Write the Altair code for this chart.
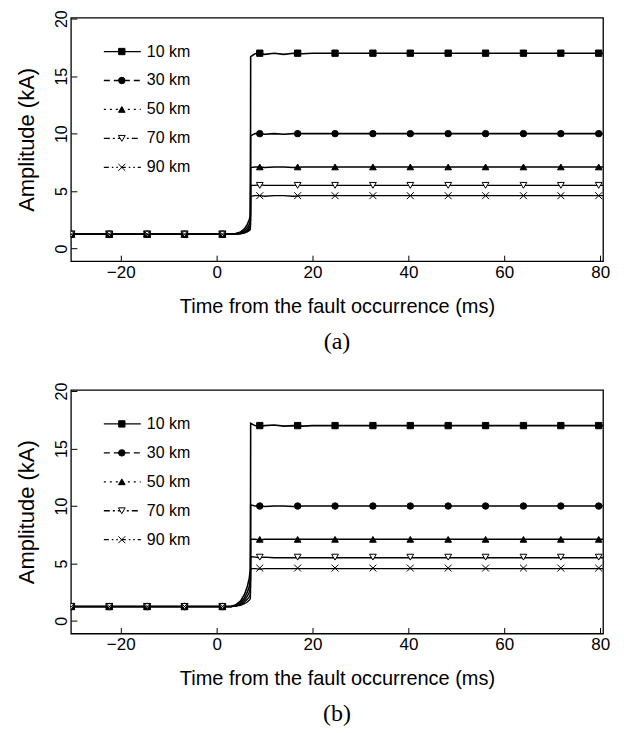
import altair as alt
import pandas as pd

# ---------------- data ----------------
SERIES = ["10 km", "30 km", "50 km", "70 km", "90 km"]

# time samples of the traces (ms)
T = [-30.5, 3.0, 4.0, 5.0, 5.8, 6.4, 6.8, 7.05, 7.1, 8, 9, 10, 12, 14, 16, 18, 20, 81]

# panel (a) amplitudes (kA)
A_10 = [1.25, 1.25, 1.30, 1.45, 1.70, 2.10, 2.50, 2.90, 16.7, 16.95, 17.0, 16.9, 17.0, 16.9, 17.0, 16.95, 17.0, 17.0]
A_30 = [1.25, 1.25, 1.28, 1.38, 1.55, 1.80, 2.10, 2.40, 9.8, 10.0, 10.0, 9.95, 10.0, 9.95, 10.0, 10.0, 10.0, 10.0]
A_50 = [1.25, 1.25, 1.27, 1.33, 1.45, 1.62, 1.85, 2.05, 7.05, 7.1, 7.1, 7.05, 7.1, 7.1, 7.05, 7.1, 7.1, 7.1]
A_70 = [1.25, 1.25, 1.26, 1.30, 1.40, 1.52, 1.68, 1.85, 5.5, 5.5, 5.55, 5.5, 5.5, 5.5, 5.5, 5.5, 5.5, 5.5]
A_90 = [1.25, 1.25, 1.25, 1.28, 1.35, 1.45, 1.55, 1.65, 4.55, 4.6, 4.6, 4.55, 4.6, 4.6, 4.55, 4.6, 4.6, 4.6]

# panel (b) amplitudes (kA)
B_10 = [1.25, 1.25, 1.40, 1.75, 2.30, 3.00, 3.70, 4.50, 17.2, 17.0, 16.9, 17.0, 17.05, 16.95, 17.0, 16.95, 17.0, 17.0]
B_30 = [1.25, 1.25, 1.35, 1.60, 2.00, 2.50, 3.00, 3.60, 10.1, 10.0, 10.0, 9.95, 10.0, 10.0, 9.95, 10.0, 10.0, 10.0]
B_50 = [1.25, 1.25, 1.32, 1.50, 1.80, 2.15, 2.50, 2.90, 7.1, 7.1, 7.05, 7.1, 7.1, 7.1, 7.1, 7.1, 7.1, 7.1]
B_70 = [1.25, 1.25, 1.30, 1.42, 1.62, 1.88, 2.10, 2.35, 5.6, 5.55, 5.5, 5.55, 5.5, 5.5, 5.5, 5.5, 5.5, 5.5]
B_90 = [1.25, 1.25, 1.28, 1.36, 1.50, 1.65, 1.80, 1.95, 4.55, 4.55, 4.5, 4.55, 4.55, 4.55, 4.55, 4.55, 4.55, 4.55]

# marker positions (ms) and levels (kA)
MARK_T = [-30.3, -22.4, -14.5, -6.7, 1.2, 9.0, 16.9, 24.7, 32.6, 40.4, 48.3, 56.1, 64.0, 71.8, 79.7]
PRE_LEVEL = 1.25
FINAL_A = [17.0, 10.0, 7.1, 5.5, 4.6]
FINAL_B = [17.0, 10.0, 7.1, 5.55, 4.6]

X_TICKS = [-20, 0, 20, 40, 60, 80]
Y_TICKS = [0, 5, 10, 15, 20]
CAPTIONS = ["(a)", "(b)"]

# ---------------- styling ----------------
X_MIN, X_MAX = -30.4, 80.6
Y_MIN, Y_MAX = -1.1, 20.1
W, H = 533, 244
SANS = "Liberation Sans"
SERIF = "Liberation Serif"

SHAPES = ["square", "circle", "triangle-up", "triangle-down", "M-1,-1L1,1M-1,1L1,-1"]
FILLS = ["black", "black", "black", "white", "black"]
SIZES = [40, 48, 50, 50, 40]
DASHES = [[1, 0], [6, 4], [2, 4], [6, 3, 2, 3], [5, 3, 1.5, 3, 1.5, 3]]
WIDTHS = [1.6, 1.3, 1.2, 1.2, 1.0]

shape_scale = alt.Scale(domain=SERIES, range=SHAPES)
fill_scale = alt.Scale(domain=SERIES, range=FILLS)
size_scale = alt.Scale(domain=SERIES, range=SIZES)
dash_scale = alt.Scale(domain=SERIES, range=DASHES)
width_scale = alt.Scale(domain=SERIES, range=WIDTHS)

# legend layout (pixels inside plot area -> data units)
PX_X = W / (X_MAX - X_MIN)
PX_Y = H / (Y_MAX - Y_MIN)
LEG_TOP, LEG_STEP = 34, 29
LEG_X0, LEG_X1, LEG_XM, LEG_XT = 33, 70, 51, 76


def line_frame(values):
    rows = []
    for s, vals in zip(SERIES, values):
        for i, (t, v) in enumerate(zip(T, vals)):
            rows.append({"series": s, "i": i, "t": t, "amp": v})
    return pd.DataFrame(rows)


def mark_frame(finals):
    rows = []
    for s, fin in zip(SERIES, finals):
        for t in MARK_T:
            rows.append({"series": s, "t": t, "amp": PRE_LEVEL if t < 7 else fin})
    return pd.DataFrame(rows)


def legend_frame():
    rows = []
    for k, s in enumerate(SERIES):
        y = Y_MAX - (LEG_TOP + k * LEG_STEP) / PX_Y
        rows.append({
            "series": s,
            "ly": y,
            "lx0": X_MIN + LEG_X0 / PX_X,
            "lx1": X_MIN + LEG_X1 / PX_X,
            "lxm": X_MIN + LEG_XM / PX_X,
            "lxt": X_MIN + LEG_XT / PX_X,
        })
    return pd.DataFrame(rows)


xscale = alt.Scale(domain=[X_MIN, X_MAX], nice=False, zero=False)
yscale = alt.Scale(domain=[Y_MIN, Y_MAX], nice=False, zero=False)

x_axis = alt.Axis(values=X_TICKS, title="Time from the fault occurrence (ms)", offset=-6,
                  tickSize=6, domain=False, grid=False, labelPadding=3, labelFontSize=17,
                  titleFontSize=20, titlePadding=16, labelFont=SANS, titleFont=SANS,
                  titleFontWeight="normal", labelColor="black", titleColor="black",
                  tickColor="black", tickWidth=1, labelFlush=False)
y_axis = alt.Axis(values=Y_TICKS, title="Amplitude (kA)", offset=-6, tickSize=6,
                  domain=False, grid=False, labelPadding=4, labelFontSize=16,
                  labelAngle=270, labelAlign="center", labelBaseline="alphabetic",
                  titleFontSize=22, titlePadding=15, labelFont=SANS, titleFont=SANS,
                  titleFontWeight="normal", labelColor="black", titleColor="black",
                  tickColor="black", tickWidth=1, labelFlush=False)


def panel(values, finals, caption):
    ldf = line_frame(values)
    mdf = mark_frame(finals)
    gdf = legend_frame()

    lines = alt.Chart(ldf).mark_line(color="black", clip=True).encode(
        x=alt.X("t:Q", scale=xscale, axis=x_axis),
        y=alt.Y("amp:Q", scale=yscale, axis=y_axis),
        detail="series:N",
        order="i:Q",
        strokeWidth=alt.StrokeWidth("series:N", scale=width_scale, legend=None),
    )
    points = alt.Chart(mdf).mark_point(filled=True, stroke="black", strokeWidth=1,
                                       opacity=1, clip=True).encode(
        x=alt.X("t:Q", scale=xscale),
        y=alt.Y("amp:Q", scale=yscale),
        shape=alt.Shape("series:N", scale=shape_scale, legend=None),
        fill=alt.Fill("series:N", scale=fill_scale, legend=None),
        size=alt.Size("series:N", scale=size_scale, legend=None),
    )
    leg_lines = alt.Chart(gdf).mark_rule(color="black", strokeWidth=1.3).encode(
        x=alt.X("lx0:Q", scale=xscale),
        x2="lx1:Q",
        y=alt.Y("ly:Q", scale=yscale),
        strokeDash=alt.StrokeDash("series:N", scale=dash_scale, legend=None),
    )
    leg_points = alt.Chart(gdf).mark_point(filled=True, stroke="black", strokeWidth=1,
                                           opacity=1).encode(
        x=alt.X("lxm:Q", scale=xscale),
        y=alt.Y("ly:Q", scale=yscale),
        shape=alt.Shape("series:N", scale=shape_scale, legend=None),
        fill=alt.Fill("series:N", scale=fill_scale, legend=None),
        size=alt.Size("series:N", scale=size_scale, legend=None),
    )
    leg_text = alt.Chart(gdf).mark_text(align="left", baseline="middle", font=SANS,
                                        fontSize=16, color="black").encode(
        x=alt.X("lxt:Q", scale=xscale),
        y=alt.Y("ly:Q", scale=yscale),
        text="series:N",
    )
    return alt.layer(lines, points, leg_lines, leg_points, leg_text).properties(
        width=W, height=H,
        title=alt.TitleParams(caption, orient="bottom", font=SERIF, fontSize=24,
                              fontWeight="normal", color="black", offset=14,
                              anchor="middle", frame="group"),
    )


chart = alt.vconcat(
    panel([A_10, A_30, A_50, A_70, A_90], FINAL_A, CAPTIONS[0]),
    panel([B_10, B_30, B_50, B_70, B_90], FINAL_B, CAPTIONS[1]),
    spacing=26,
).properties(
    padding={"left": 7, "top": 0, "right": 5, "bottom": 5},
    background="white",
).configure_view(
    stroke="black", strokeWidth=1.3
)

chart.save("out.html", embed_options={"renderer": "svg", "actions": False})
